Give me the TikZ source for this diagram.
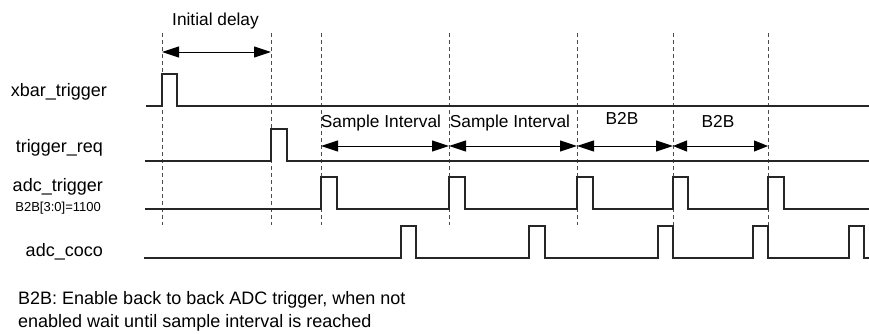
\documentclass[tikz,border=0pt]{standalone}
\usepackage{fontspec}
\setmainfont{Liberation Sans}
\usetikzlibrary{arrows.meta}
\begin{document}
\begin{tikzpicture}[x=1pt,y=-1pt,
  sig/.style={line width=1.1pt,black!85,line join=miter},
  guide/.style={line width=0.9pt,black!70,dash pattern=on 4pt off 3pt},
  span/.style={line width=1pt,black,{Triangle[length=17pt,width=11pt]}-{Triangle[length=17pt,width=11pt]}},
  spans/.style={line width=1pt,black,{Triangle[length=14pt,width=11pt]}-{Triangle[length=14pt,width=11pt]}},
  lbl/.style={inner sep=0pt,anchor=base east,font=\fontsize{18}{20}\selectfont},
  txt/.style={inner sep=0pt,anchor=base,font=\fontsize{17.3}{20}\selectfont},
  small/.style={inner sep=0pt,anchor=base east,font=\fontsize{13}{15}\selectfont}]
\useasboundingbox (0,0) rectangle (869,333);

% guide lines
\coordinate (atop) at (162,33); \coordinate (abot) at (162,225);
\coordinate (btop) at (271,33); \coordinate (bbot) at (271,225);
\coordinate (ctop) at (321,33); \coordinate (cbot) at (321,225);
\coordinate (dtop) at (449,33); \coordinate (dbot) at (449,225);
\coordinate (etop) at (577,33); \coordinate (ebot) at (577,225);
\coordinate (ftop) at (673,33); \coordinate (fbot) at (673,225);
\coordinate (gtop) at (768,33); \coordinate (gbot) at (768,225);
\draw[guide] (atop) -- (abot);
\draw[guide] (btop) -- (bbot);
\draw[guide] (ctop) -- (cbot);
\draw[guide] (dtop) -- (dbot);
\draw[guide] (etop) -- (ebot);
\draw[guide] (ftop) -- (fbot);
\draw[guide] (gtop) -- (gbot);
\coordinate (adl) at (162,52); \coordinate (bdl) at (271,52);
\coordinate (csi) at (321,146); \coordinate (dsi) at (449,146);
\coordinate (esi) at (577,146); \coordinate (fsi) at (673,146);
\coordinate (gsi) at (768,146);

% signal labels
\node[lbl] (lxbar) at (107,96) {xbar\_trigger};
\node[lbl] (lreq) at (103,152) {trigger\_req};
\node[lbl] (ladc) at (103,191) {adc\_trigger};
\node[small] (lb2b) at (101,211) {B2B[3:0]=1100};
\node[lbl] (lcoco) at (103,256) {adc\_coco};

% signals
\draw[sig] (146,106) -- (162,106) -- (162,74) -- (177,74) -- (177,106) -- (869,106);
\draw[sig] (145,161) -- (271,161) -- (271,129) -- (287,129) -- (287,161) -- (869,161);
\draw[sig] (145,209) -- (321,209) -- (321,177) -- (337,177) -- (337,209)
  -- (449,209) -- (449,177) -- (465,177) -- (465,209)
  -- (577,209) -- (577,177) -- (593,177) -- (593,209)
  -- (673,209) -- (673,177) -- (688,177) -- (688,209)
  -- (768,209) -- (768,177) -- (784,177) -- (784,209) -- (869,209);
\draw[sig] (144,258) -- (401,258) -- (401,226) -- (416,226) -- (416,258)
  -- (529,258) -- (529,226) -- (545,226) -- (545,258)
  -- (658,258) -- (658,226) -- (673,226) -- (673,258)
  -- (753,258) -- (753,226) -- (768,226) -- (768,258)
  -- (849,258) -- (849,226) -- (864,226) -- (864,258) -- (869,258);

% spans
\node[txt] (tdelay) at (215.5,25) {Initial delay};
\draw[span] (adl) -- (bdl);
\node[txt] (tsi1) at (381,127) {Sample Interval};
\node[txt] (tsi2) at (510,127) {Sample Interval};
\node[txt] (tb1) at (622,124) {B2B};
\node[txt] (tb2) at (718,127) {B2B};
\draw[span] (csi) -- (dsi);
\draw[span] (dsi) -- (esi);
\draw[span] (esi) -- (fsi);
\draw[spans] (fsi) -- (gsi);

% note
\node[inner sep=0pt,anchor=base west,font=\fontsize{18}{23}\selectfont,align=left] (note) at (18,327)
  {B2B: Enable back to back ADC trigger, when not\\enabled wait until sample interval is reached};
\end{tikzpicture}
\end{document}
